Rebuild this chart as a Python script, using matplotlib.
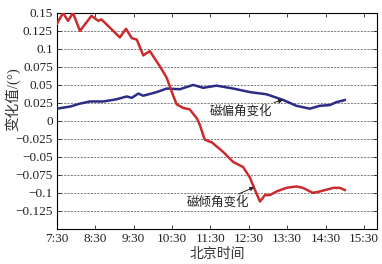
import matplotlib
matplotlib.use("Agg")
import matplotlib.pyplot as plt

# ---------------------------------------------------------------------------
# Data (hours in decimal, values in degrees)
# ---------------------------------------------------------------------------
red_t = [7.50, 7.66, 7.79, 7.92, 8.10, 8.40, 8.58, 8.66, 9.14, 9.30, 9.45,
         9.58, 9.75, 9.92, 10.18, 10.36, 10.53, 10.62, 10.79, 10.96, 11.14,
         11.22, 11.35, 11.54, 11.83, 12.09, 12.35, 12.53, 12.66, 12.79, 12.92,
         13.05, 13.22, 13.48, 13.74, 13.91, 14.17, 14.35, 14.70, 14.87, 15.00]
red_v = [0.135, 0.150, 0.139, 0.150, 0.125, 0.146, 0.139, 0.141, 0.116, 0.128,
         0.115, 0.113, 0.091, 0.097, 0.076, 0.060, 0.035, 0.023, 0.018, 0.016,
         0.004, -0.005, -0.026, -0.030, -0.043, -0.057, -0.064, -0.079, -0.096,
         -0.112, -0.103, -0.103, -0.098, -0.093, -0.091, -0.093, -0.100, -0.098,
         -0.093, -0.093, -0.096]

blue_t = [7.50, 7.85, 8.10, 8.36, 8.71, 9.05, 9.32, 9.45, 9.62, 9.75, 10.10,
          10.36, 10.70, 11.05, 11.31, 11.66, 12.09, 12.53, 12.96, 13.40, 13.74,
          14.09, 14.35, 14.61, 14.78, 15.00]
blue_v = [0.017, 0.020, 0.024, 0.027, 0.027, 0.030, 0.034, 0.032, 0.038, 0.035,
          0.040, 0.045, 0.044, 0.050, 0.046, 0.049, 0.045, 0.040, 0.037, 0.029,
          0.021, 0.017, 0.021, 0.022, 0.026, 0.029]

x_ticks = [7.5, 8.5, 9.5, 10.5, 11.5, 12.5, 13.5, 14.5, 15.5]
x_labels = ["7:30", "8:30", "9:30", "10:30", "11:30", "12:30", "13:30", "14:30", "15:30"]
y_ticks = [0.15, 0.125, 0.1, 0.075, 0.05, 0.025, 0, -0.025, -0.05, -0.075, -0.1, -0.125]
y_labels = ["0.15", "0.125", "0.1", "0.075", "0.05", "0.025", "0", "\u22120.025",
            "\u22120.05", "\u22120.075", "\u22120.1", "\u22120.125"]

plt.rcParams['font.family'] = ['Liberation Serif', 'Noto Sans CJK SC']

fig = plt.figure(figsize=(3.82, 2.64), dpi=100)
ax = fig.add_axes([0.149, 0.133, 0.838, 0.818])

for y in y_ticks:
    ax.axhline(y, color="#666666", lw=0.6, ls=(0, (2.5, 1.5)), zorder=1)

ax.plot(blue_t, blue_v, color="#2a2c85", lw=1.8, zorder=3)
ax.plot(red_t, red_v, color="#cc2b2e", lw=1.8, zorder=3)

ax.set_xlim(7.5, 15.84)
ax.set_ylim(-0.15, 0.15)
ax.set_xticks(x_ticks)
ax.set_xticklabels(x_labels)
ax.set_yticks(y_ticks)
ax.set_yticklabels(y_labels)
ax.tick_params(direction="in", top=True, right=True, labelsize=9.5, length=3,
               width=0.6, colors="#222222", pad=3)
for s in ax.spines.values():
    s.set_linewidth(0.8)

ax.annotate("磁偏角变化", xy=(13.39, 0.029), xytext=(13.12, 0.013),
            ha="right", va="center", fontsize=9, color="#222222",
            arrowprops=dict(arrowstyle="-|>", color="#222222", lw=0.7,
                            mutation_scale=6, shrinkA=0, shrinkB=0))
ax.annotate("磁倾角变化", xy=(12.64, -0.092), xytext=(12.52, -0.114),
            ha="right", va="center", fontsize=9, color="#222222",
            arrowprops=dict(arrowstyle="-|>", color="#222222", lw=0.7,
                            mutation_scale=6, shrinkA=0, shrinkB=0))

ax.set_xlabel("北京时间", fontsize=10, color="#333333", labelpad=2)
ax.set_ylabel("变化值/(°)", fontsize=10.5, color="#333333")
ax.yaxis.set_label_coords(-0.115, 0.6)

fig.savefig("out.png", dpi=100)
